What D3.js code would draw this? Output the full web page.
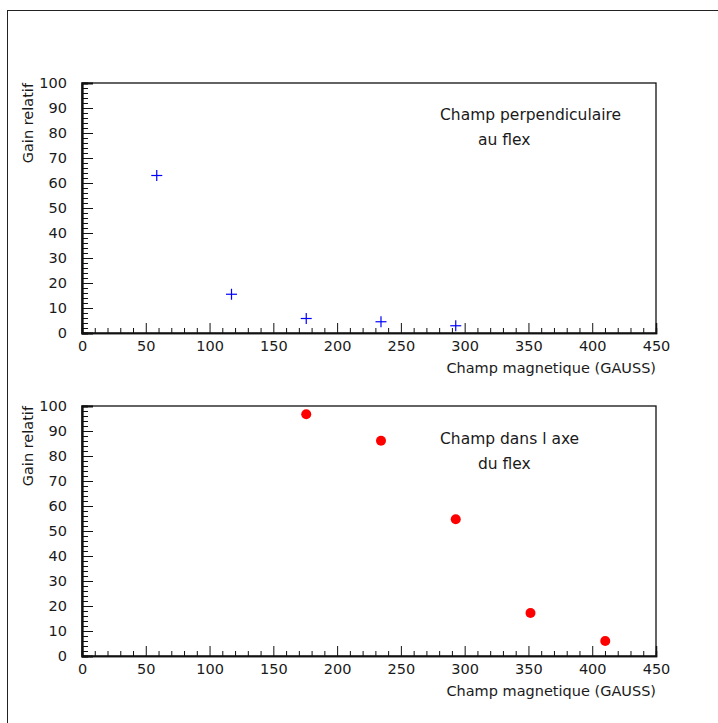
<!DOCTYPE html>
<html>
<head>
<meta charset="utf-8">
<script src="https://cdn.jsdelivr.net/npm/d3@7"></script>
<style>
html,body{margin:0;padding:0;background:#fff;}
svg{display:block;font-family:"DejaVu Sans",sans-serif;}
</style>
</head>
<body>
<svg id="c" width="718" height="723"></svg>
<script>
// Data
const perpField = [58.6, 117.2, 175.8, 234.4, 293.0];
const perpGain  = [63.0, 15.5, 5.8, 4.5, 2.9];
const axeField  = [175.8, 234.4, 293.0, 351.6, 410.2];
const axeGain   = [96.7, 86.1, 54.7, 17.2, 6.0];
const xTicks = [0, 50, 100, 150, 200, 250, 300, 350, 400, 450];
const yTicks = [0, 10, 20, 30, 40, 50, 60, 70, 80, 90, 100];
const xTitle = "Champ magnetique (GAUSS)";
const yTitle = "Gain relatif";
const perpLabel = ["Champ perpendiculaire", "au flex"];
const axeLabel = ["Champ dans l axe", "du flex"];

const svg = d3.select("#c");
const ink = "#1a1a1a";
// outer frame
svg.append("rect").attr("x",7.5).attr("y",10.5).attr("width",760).attr("height",760)
  .attr("fill","none").attr("stroke","#222").attr("stroke-width",1);

const left = 82, right = 656;
function panel(top, bottom, xs, ys, kind, label, labelY){
  const x = d3.scaleLinear().domain([0,450]).range([left,right]);
  const y = d3.scaleLinear().domain([0,100]).range([bottom,top]);
  const g = svg.append("g");
  // frame
  g.append("rect").attr("x",left).attr("y",top).attr("width",right-left).attr("height",bottom-top)
    .attr("fill","none").attr("stroke","#111").attr("stroke-width",1.3);
  // x ticks (inward)
  const xAxisMinor = d3.axisBottom(x).tickValues(d3.range(0,451,10).filter(v=>v%50!==0))
    .tickSize(-5).tickFormat("");
  const xAxisMajor = d3.axisBottom(x).tickValues(xTicks).tickSize(-10).tickPadding(6)
    .tickFormat(d3.format("d"));
  const gx1 = g.append("g").attr("transform",`translate(0,${bottom})`).call(xAxisMinor);
  const gx2 = g.append("g").attr("transform",`translate(0,${bottom})`).call(xAxisMajor);
  [gx1,gx2].forEach(s=>{ s.select(".domain").attr("stroke","#111").attr("stroke-width",1.5);
    s.selectAll(".tick line").attr("stroke","#111").attr("stroke-width",1);});
  gx2.selectAll(".tick text").attr("font-size",14.5).attr("fill",ink).attr("dy","1em")
    .attr("font-family","DejaVu Sans").attr("y",3);
  // y ticks
  const yAxisMinor = d3.axisLeft(y).tickValues(d3.range(0,101,2).filter(v=>v%10!==0))
    .tickSize(-6).tickFormat("");
  const yAxisMajor = d3.axisLeft(y).tickValues(yTicks).tickSize(-11).tickPadding(15)
    .tickFormat(d3.format("d"));
  const gy1 = g.append("g").attr("transform",`translate(${left},0)`).call(yAxisMinor);
  const gy2 = g.append("g").attr("transform",`translate(${left},0)`).call(yAxisMajor);
  [gy1,gy2].forEach(s=>{ s.select(".domain").attr("stroke","#111").attr("stroke-width",1.8);
    s.selectAll(".tick line").attr("stroke","#111").attr("stroke-width",1);});
  gy2.selectAll(".tick text").attr("font-size",14.5).attr("fill",ink).attr("x",-15)
    .attr("font-family","DejaVu Sans");
  // titles
  g.append("text").attr("x",right).attr("y",bottom+40).attr("text-anchor","end")
    .attr("font-size",14.5).attr("fill",ink).text(xTitle);
  g.append("text").attr("transform",`translate(33,${top}) rotate(-90)`).attr("text-anchor","end")
    .attr("font-size",14.5).attr("fill",ink).text(yTitle);
  // label
  g.append("text").attr("x",440).attr("y",labelY).attr("font-size",15.5).attr("fill",ink).text(label[0]);
  g.append("text").attr("x",478).attr("y",labelY+25).attr("font-size",15.5).attr("fill",ink).text(label[1]);
  // points
  const pts = xs.map((v,i)=>[v, ys[i]]);
  if(kind==="cross"){
    const s = 5.5;
    pts.forEach(([a,b])=>{
      const cx = x(a), cy = y(b);
      g.append("line").attr("x1",cx-s).attr("x2",cx+s).attr("y1",cy).attr("y2",cy).attr("stroke","#0000ff").attr("stroke-width",1.2);
      g.append("line").attr("x1",cx).attr("x2",cx).attr("y1",cy-s).attr("y2",cy+s).attr("stroke","#0000ff").attr("stroke-width",1.2);
    });
  } else {
    g.selectAll("circle.p").data(pts).enter().append("circle")
      .attr("cx",d=>x(d[0])).attr("cy",d=>y(d[1])).attr("r",5).attr("fill","#ff0000");
  }
}
panel(83, 333, perpField, perpGain, "cross", perpLabel, 120);
panel(406, 656, axeField, axeGain, "dot", axeLabel, 444);
</script>
</body>
</html>
